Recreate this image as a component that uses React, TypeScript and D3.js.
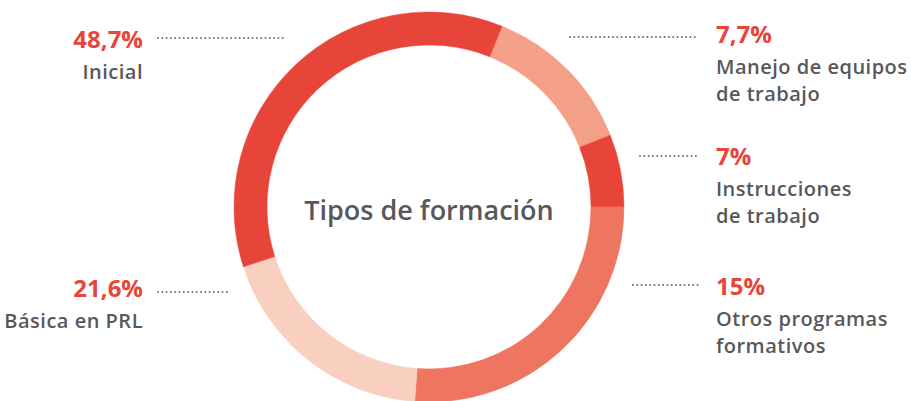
import React from "react";
import { pie, arc } from "d3";

// ring segments, clockwise from the top-right join
const segments = ["Manejo", "Instrucciones", "Otros", "Basica", "Inicial"];
// share of the ring as drawn (in %)
const ringShare = [12.9, 6.0, 26.2, 18.9, 36.1];
const segmentColors = ["#F4A088", "#E8453A", "#EE7660", "#F9CFBF", "#E8453A"];

// callouts
const percentLabels = ["48,7%", "7,7%", "7%", "15%", "21,6%"];
const nameLines = [
  ["Inicial"],
  ["Manejo de equipos", "de trabajo"],
  ["Instrucciones", "de trabajo"],
  ["Otros programas", "formativos"],
  ["Básica en PRL"],
];

const title = "Tipos de formación";

const WIDTH = 911;
const HEIGHT = 401;
const CX = 429;
const CY = 207;
const OUTER = 195;
const INNER = 162;
const START_DEG = 22;

// callout layout: side, text x, baseline of the % label, dotted leader x0..x1, leader y
const calloutLayout = [
  { side: "left", x: 143, y: 48, lx0: 158, lx1: 287, ly: 38 },
  { side: "right", x: 716, y: 43, lx0: 570, lx1: 698, ly: 37 },
  { side: "right", x: 716, y: 165, lx0: 640, lx1: 698, ly: 156 },
  { side: "right", x: 716, y: 295, lx0: 633, lx1: 698, ly: 285 },
  { side: "left", x: 143, y: 297, lx0: 158, lx1: 231, ly: 292 },
];

const FONT = "'Open Sans', Lato, sans-serif";
const RED = "#E8453A";
const GREY = "#58585A";

export default function App() {
  const start = (START_DEG * Math.PI) / 180;
  const pieGen = pie<number>()
    .sort(null)
    .value((d) => d)
    .startAngle(start)
    .endAngle(start + Math.PI * 2);
  const arcs = pieGen(ringShare);
  const arcGen = arc<any>().innerRadius(INNER).outerRadius(OUTER);

  return (
    <svg
      width={WIDTH}
      height={HEIGHT}
      style={{ position: "absolute", left: 0, top: 0, background: "#fff" }}
    >
      <g transform={`translate(${CX},${CY})`}>
        {arcs.map((a, i) => (
          <path
            key={segments[i]}
            d={arcGen(a) || ""}
            fill={segmentColors[i]}
            stroke={segmentColors[i]}
            strokeWidth={0.5}
          />
        ))}
        <text
          x={0}
          y={13}
          textAnchor="middle"
          fontFamily={FONT}
          fontWeight={600}
          fontSize={27}
          fill={GREY}
        >
          {title}
        </text>
      </g>

      {calloutLayout.map((c, i) => {
        const anchor = c.side === "left" ? "end" : "start";
        return (
          <g key={percentLabels[i]}>
            <line
              x1={c.lx0}
              x2={c.lx1}
              y1={c.ly}
              y2={c.ly}
              stroke="#6d6d6d"
              strokeWidth={2}
              strokeLinecap="round"
              strokeDasharray="0 4.3"
            />
            <text
              x={c.x}
              y={c.y}
              textAnchor={anchor}
              fontFamily={FONT}
              fontWeight={700}
              fontSize={24}
              fill={RED}
            >
              {percentLabels[i]}
            </text>
            {nameLines[i].map((line, j) => (
              <text
                key={line}
                x={c.x}
                y={c.y + 31 + j * 27}
                textAnchor={anchor}
                fontFamily={FONT}
                fontWeight={600}
                fontSize={20}
                letterSpacing={0.5}
                fill={GREY}
              >
                {line}
              </text>
            ))}
          </g>
        );
      })}
    </svg>
  );
}
